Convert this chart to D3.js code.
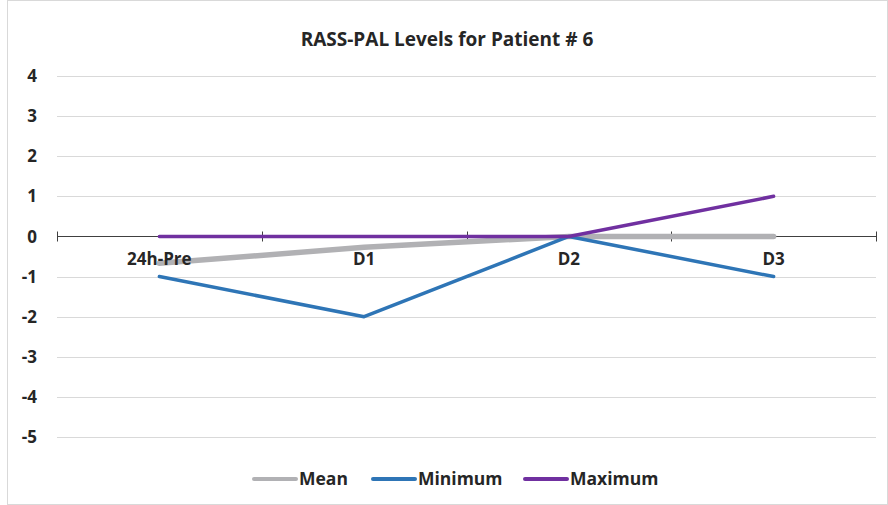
<!DOCTYPE html>
<html>
<head>
<meta charset="utf-8">
<script src="https://cdn.jsdelivr.net/npm/d3@7.9.0/dist/d3.min.js"></script>
<style>
  body { margin: 0; background: #fff; }
  svg text { font-family: "Open Sans", Lato, sans-serif; font-weight: bold; fill: #262626; }
</style>
</head>
<body>
<svg id="chart" width="888" height="505"></svg>
<script>
const categories = ['24h-Pre', 'D1', 'D2', 'D3'];
const meanValues = [-0.67, -0.27, 0, 0];
const minValues = [-1, -2, 0, -1];
const maxValues = [0, 0, 0, 1];
const yTicks = [4, 3, 2, 1, 0, -1, -2, -3, -4, -5];

const series = [
  { name: 'Mean', values: meanValues, color: '#b1b1b4', width: 5.5 },
  { name: 'Minimum', values: minValues, color: '#2e75b6', width: 3.5 },
  { name: 'Maximum', values: maxValues, color: '#7030a0', width: 3.5 }
];

const svg = d3.select('#chart');
svg.append('rect').attr('x', 7.5).attr('y', 0.5).attr('width', 880).attr('height', 504)
  .attr('fill', 'none').attr('stroke', '#d9d9d9');

const x = d3.scaleBand().domain(categories).range([57, 876]);
const y = d3.scaleLinear().domain([-5, 4]).range([437, 76]);

// gridlines
svg.append('g').selectAll('line').data(yTicks).join('line')
  .attr('x1', 57).attr('x2', 876)
  .attr('y1', d => Math.round(y(d)) + 0.5).attr('y2', d => Math.round(y(d)) + 0.5)
  .attr('stroke', '#d9d9d9').attr('stroke-width', 1);

// y labels
svg.append('g').selectAll('text').data(yTicks).join('text')
  .attr('x', 37).attr('y', d => y(d)).attr('dy', '0.36em')
  .attr('text-anchor', 'end').attr('font-size', 17)
  .text(d => d);

// x axis at zero
const xAxis = d3.axisBottom(x).tickSize(0).tickFormat('');
const axisG = svg.append('g').attr('transform', `translate(0,${Math.round(y(0)) + 0.5})`).call(xAxis);
axisG.select('.domain').remove();
axisG.append('line').attr('x1', 57).attr('x2', 876).attr('stroke', '#404040');
const tickPos = categories.map(c => x(c)).concat([x.range()[1]]);
axisG.selectAll('.tk').data(tickPos).join('line').attr('class', 'tk')
  .attr('x1', d => Math.round(d) + 0.5).attr('x2', d => Math.round(d) + 0.5)
  .attr('y1', -5).attr('y2', 5).attr('stroke', '#404040');

// lines
const line = d3.line().x((d, i) => x(categories[i]) + x.bandwidth() / 2).y(d => y(d));
series.forEach(s => {
  svg.append('path').datum(s.values).attr('d', line)
    .attr('fill', 'none').attr('stroke', s.color).attr('stroke-width', s.width)
    .attr('stroke-linecap', 'round').attr('stroke-linejoin', 'round');
});

// x labels
svg.append('g').selectAll('text').data(categories).join('text')
  .attr('x', d => x(d) + x.bandwidth() / 2).attr('y', y(0) + 29)
  .attr('text-anchor', 'middle').attr('font-size', 17)
  .text(d => d);

// title
svg.append('text').attr('x', 447).attr('y', 46).attr('text-anchor', 'middle')
  .attr('font-size', 19).text('RASS-PAL Levels for Patient # 6');

// legend
const legendX = [254, 373, 525];
const lg = svg.append('g').selectAll('g').data(series).join('g')
  .attr('transform', (d, i) => `translate(${legendX[i]},479)`);
lg.append('line').attr('x1', 0).attr('x2', 42)
  .attr('stroke', d => d.color).attr('stroke-width', 4).attr('stroke-linecap', 'round');
lg.append('text').attr('x', 45).attr('dy', '0.36em').attr('font-size', 17.5).text(d => d.name);
</script>
</body>
</html>
